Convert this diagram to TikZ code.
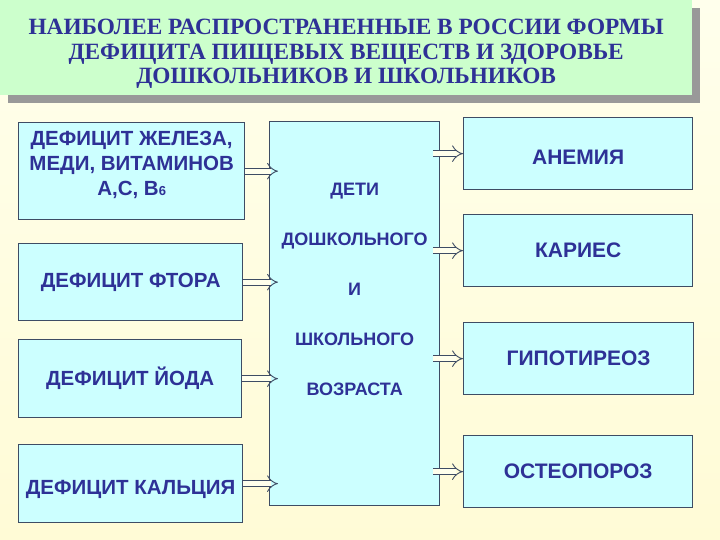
\documentclass[tikz,border=0pt]{standalone}
\usepackage{fontspec}
\setmainfont{Liberation Serif}
\setsansfont{Liberation Sans}
\usetikzlibrary{arrows.meta,shadows}
\definecolor{txtblue}{RGB}{46,49,150}
\definecolor{boxfill}{RGB}{204,255,255}
\definecolor{boxline}{RGB}{62,76,100}
\definecolor{titlefill}{RGB}{204,255,204}
\definecolor{bgtop}{RGB}{255,255,236}
\definecolor{bgbot}{RGB}{255,251,214}
\tikzset{
  box/.style={draw=boxline,line width=1.3pt,fill=boxfill,text=txtblue,
    font=\sffamily\bfseries\fontsize{20.5}{25}\selectfont,align=center,
    inner sep=0pt,anchor=north west},
  rbox/.style={box,font=\sffamily\bfseries\fontsize{21}{25}\selectfont},
  arr/.style={draw=boxline,line width=0.9pt,double=bgtop,double distance=5pt,-{Implies}},
}
\begin{document}
\begin{tikzpicture}[x=1pt,y=-1pt]
\shade[top color=bgtop,bottom color=bgbot] (0,0) rectangle (720,540);
\useasboundingbox (0,0) rectangle (720,540);
% title
\node[fill=titlefill,anchor=north west,minimum width=692pt,minimum height=95pt,
  inner sep=0pt,text=txtblue,align=center,text height=77pt,
  font=\rmfamily\bfseries\fontsize{23.3}{24.5}\selectfont,
  drop shadow={shadow xshift=8pt,shadow yshift=-8pt,fill=gray!80,opacity=1}]
  (title) at (0,0) {НАИБОЛЕЕ РАСПРОСТРАНЕННЫЕ В РОССИИ ФОРМЫ\\
  ДЕФИЦИТА ПИЩЕВЫХ ВЕЩЕСТВ И ЗДОРОВЬЕ\\ ДОШКОЛЬНИКОВ И ШКОЛЬНИКОВ};
% left
\node[box,minimum width=226pt,minimum height=97pt,text depth=16pt] (defFe) at (18,122)
  {ДЕФИЦИТ ЖЕЛЕЗА,\\ МЕДИ, ВИТАМИНОВ\\ А,С, В{\fontsize{13}{13}\selectfont 6}};
\node[box,minimum width=224pt,minimum height=77pt] (defF) at (18,243) {ДЕФИЦИТ ФТОРА};
\node[box,minimum width=223pt,minimum height=78pt] (defI) at (18,339) {ДЕФИЦИТ ЙОДА};
\node[box,minimum width=224pt,minimum height=78pt,text height=26pt] (defCa) at (18,444) {ДЕФИЦИТ КАЛЬЦИЯ};
% center
\node[box,minimum width=170pt,minimum height=384pt,text depth=48pt,
  font=\sffamily\bfseries\fontsize{18}{50}\selectfont] (kids) at (269,121)
  {ДЕТИ\\ ДОШКОЛЬНОГО\\ И\\ ШКОЛЬНОГО\\ ВОЗРАСТА};
% right
\node[rbox,minimum width=229pt,minimum height=72pt,text height=22pt] (anemia) at (463,117) {АНЕМИЯ};
\node[rbox,minimum width=229pt,minimum height=72pt] (caries) at (463,214) {КАРИЕС};
\node[rbox,minimum width=230pt,minimum height=72pt] (hypo) at (463,322) {ГИПОТИРЕОЗ};
\node[rbox,minimum width=229pt,minimum height=72pt] (osteo) at (463,435) {ОСТЕОПОРОЗ};
% arrows
\foreach \n in {defFe,defF,defI,defCa}
  \draw[arr] (\n.east) -- ([xshift=9pt]kids.west |- \n.east);
\foreach \n in {anemia,caries,hypo,osteo}
  \draw[arr] ([xshift=-7pt]kids.east |- \n.west) -- (\n.west);
\end{tikzpicture}
\end{document}
